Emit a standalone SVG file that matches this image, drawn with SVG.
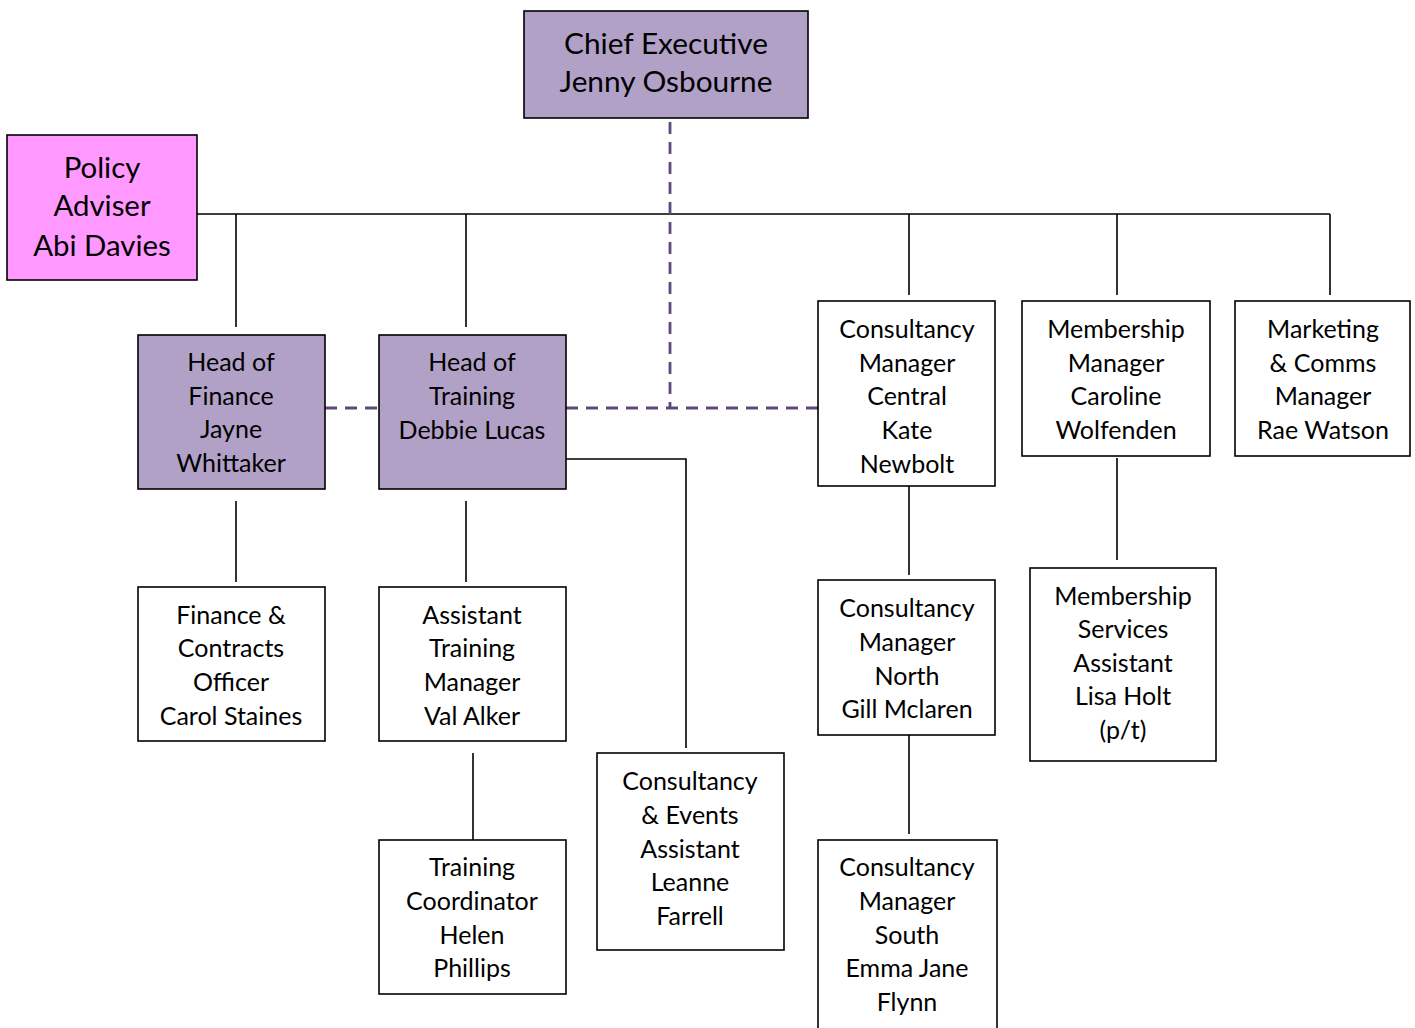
<svg xmlns="http://www.w3.org/2000/svg" width="1415" height="1028" viewBox="0 0 1415 1028">
<style>
.box{stroke:#000;stroke-width:1.6;fill:#fff}
.head{fill:#b2a1c7}
.pol{fill:#ff99ff}
text{font-family:Lato,"Liberation Sans",sans-serif;font-size:25px;fill:#000;text-anchor:middle}
.big{font-size:29.8px}
.mid{font-size:29.4px}
.ln{stroke:#000;stroke-width:1.6;fill:none}
.dash{stroke:#5f497a;stroke-width:2.8;stroke-dasharray:12,8;fill:none}
</style>
<rect width="1415" height="1028" fill="#fff"/>
<g id="connectors">
<path class="ln" d="M197,214 H1330 M236,214 V327 M466,214 V327 M909,214 V295 M1117,214 V295 M1330,214 V295"/>
<path class="ln" d="M566,459 H686 V748"/>
<path class="ln" d="M236,501 V582 M466,501 V582 M473,753 V840 M909,486 V575 M909,735 V834 M1117,458 V560"/>
<path class="dash" d="M670,122 V408 M325,408 H379 M566,408 H818"/>
</g>
<g id="ceo"><rect class="box head" x="524" y="11" width="284" height="107"/>
<text class="big" x="666" y="54">Chief Executive</text><text class="big" x="666" y="92">Jenny Osbourne</text></g>
<g id="policy"><rect class="box pol" x="7" y="135" width="190" height="145"/>
<text class="mid" x="102" y="178">Policy</text><text class="mid" x="102" y="216">Adviser</text><text class="mid" x="102" y="256">Abi Davies</text></g>
<g id="head-finance"><rect class="box head" x="138" y="335" width="187" height="154"/>
<text x="231" y="371">Head of</text><text x="231" y="405">Finance</text><text x="231" y="438">Jayne</text><text x="231" y="472">Whittaker</text></g>
<g id="head-training"><rect class="box head" x="379" y="335" width="187" height="154"/>
<text x="472" y="371">Head of</text><text x="472" y="405">Training</text><text x="472" y="439">Debbie Lucas</text></g>
<g id="cons-central"><rect class="box" x="818" y="301" width="177" height="185"/>
<text x="907" y="338">Consultancy</text><text x="907" y="372">Manager</text><text x="907" y="405">Central</text><text x="907" y="439">Kate</text><text x="907" y="473">Newbolt</text></g>
<g id="membership-mgr"><rect class="box" x="1022" y="301" width="188" height="155"/>
<text x="1116" y="338">Membership</text><text x="1116" y="372">Manager</text><text x="1116" y="405">Caroline</text><text x="1116" y="439">Wolfenden</text></g>
<g id="marketing"><rect class="box" x="1235" y="301" width="175" height="155"/>
<text x="1323" y="338">Marketing</text><text x="1323" y="372">&amp; Comms</text><text x="1323" y="405">Manager</text><text x="1323" y="439">Rae Watson</text></g>
<g id="finance-officer"><rect class="box" x="138" y="587" width="187" height="154"/>
<text x="231" y="624">Finance &amp;</text><text x="231" y="657">Contracts</text><text x="231" y="691">Officer</text><text x="231" y="725">Carol Staines</text></g>
<g id="asst-training"><rect class="box" x="379" y="587" width="187" height="154"/>
<text x="472" y="624">Assistant</text><text x="472" y="657">Training</text><text x="472" y="691">Manager</text><text x="472" y="725">Val Alker</text></g>
<g id="training-coord"><rect class="box" x="379" y="840" width="187" height="154"/>
<text x="472" y="876">Training</text><text x="472" y="910">Coordinator</text><text x="472" y="944">Helen</text><text x="472" y="977">Phillips</text></g>
<g id="cons-events"><rect class="box" x="597" y="753" width="187" height="197"/>
<text x="690" y="790">Consultancy</text><text x="690" y="824">&amp; Events</text><text x="690" y="858">Assistant</text><text x="690" y="891">Leanne</text><text x="690" y="925">Farrell</text></g>
<g id="cons-north"><rect class="box" x="818" y="580" width="177" height="155"/>
<text x="907" y="617">Consultancy</text><text x="907" y="651">Manager</text><text x="907" y="685">North</text><text x="907" y="718">Gill Mclaren</text></g>
<g id="cons-south"><rect class="box" x="818" y="840" width="179" height="200"/>
<text x="907" y="876">Consultancy</text><text x="907" y="910">Manager</text><text x="907" y="944">South</text><text x="907" y="977">Emma Jane</text><text x="907" y="1011">Flynn</text></g>
<g id="membership-asst"><rect class="box" x="1030" y="568" width="186" height="193"/>
<text x="1123" y="605">Membership</text><text x="1123" y="638">Services</text><text x="1123" y="672">Assistant</text><text x="1123" y="705">Lisa Holt</text><text x="1123" y="739">(p/t)</text></g>
</svg>
